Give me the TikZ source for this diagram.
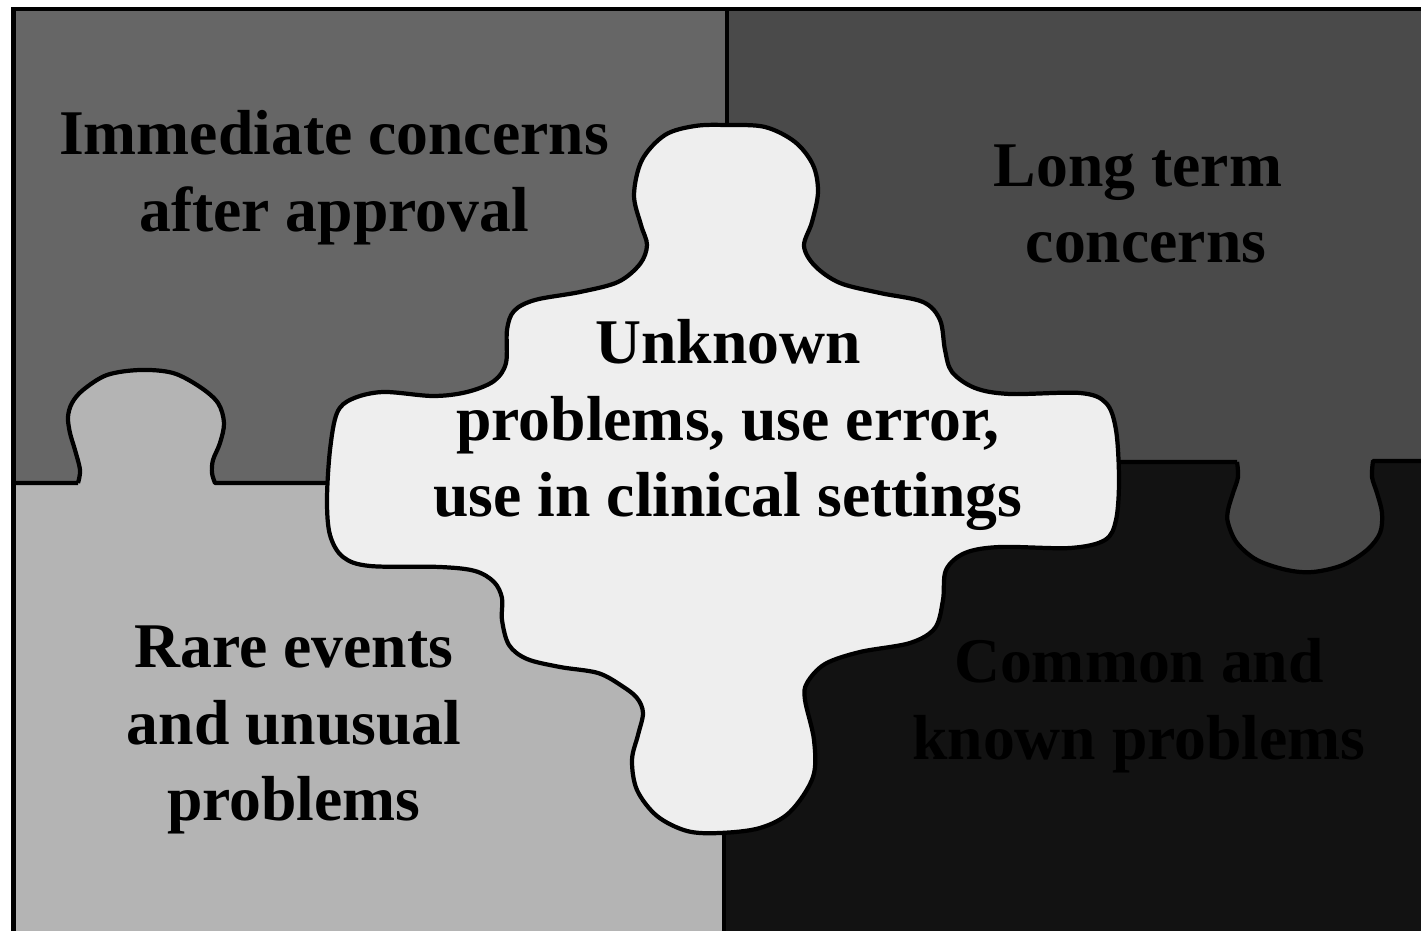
\documentclass[tikz,border=0pt]{standalone}
\usepackage{fontspec}
\setmainfont{Liberation Serif}
\definecolor{cTL}{HTML}{666666}
\definecolor{cTR}{HTML}{4A4A4A}
\definecolor{cBL}{HTML}{B4B4B4}
\definecolor{cBR}{HTML}{121212}
\definecolor{cMid}{HTML}{EEEEEE}
\tikzset{
  outline/.style={draw=black, line width=1.2pt, line join=round},
  label/.style={font=\fontsize{18.1}{21.8}\selectfont\bfseries, align=center, text=black, inner sep=0pt},
}
\begin{document}
\begin{tikzpicture}[x=0.01cm, y=-0.01cm]
\useasboundingbox (0,0) rectangle (1421,931);
\clip (0,0) rectangle (1421,931);
% quadrant fills
\fill[cTL] (13,9) rectangle (727,483);
\fill[cTR] (727,9) rectangle (1440,461);
\fill[cBL] (13,483) rectangle (724,950);
\fill[cBR] (724,461) rectangle (1440,950);
% left tab (bottom-left piece into top-left)
\fill[cBL] plot[smooth, tension=0.55] coordinates {(78,484) (80,470) (75,450) (70,433) (68,417) (72,403) (83,390) (107,375) (140,370) (173,373) (200,387) (218,403) (224,423) (220,443) (213,460) (212,473) (215,484)} -- cycle;
% right knob (top-right piece into bottom-right)
\fill[cTR] plot[smooth, tension=0.55] coordinates {(1237,460) (1238,477) (1233,493) (1228,510) (1228,523) (1237,543) (1257,560) (1287,570) (1313,572) (1343,565) (1367,550) (1380,533) (1382,513) (1377,493) (1372,477) (1373,460)} -- cycle;
% dividers
\draw[outline] (13,483) -- (78,483) plot[smooth, tension=0.55] coordinates {(78,483) (80,470) (75,450) (70,433) (68,417) (72,403) (83,390) (107,375) (140,370) (173,373) (200,387) (218,403) (224,423) (220,443) (213,460) (212,473) (215,483)} -- (340,483);
\draw[outline] (1110,462) -- (1237,462) plot[smooth, tension=0.55] coordinates {(1237,462) (1238,477) (1233,493) (1228,510) (1228,523) (1237,543) (1257,560) (1287,570) (1313,572) (1343,565) (1367,550) (1380,533) (1382,513) (1377,493) (1372,477) (1373,461)} -- (1440,461);
\draw[outline] (727,9) -- (727,135);
\draw[outline] (724,820) -- (724,950);
% central piece
\draw[outline, fill=cMid] plot[smooth cycle, tension=0.55] coordinates {
(727,125) (765,127) (795,142) (813,165) (818,192) (812,222) (804,246) (815,266) (840,283) (880,293) (923,302) (940,320) (945,350) (952,372) (975,388) (1010,394) (1080,393) (1106,403) (1116,430) (1119,480) (1116,520) (1105,540) (1070,548) (1000,547) (965,553) (946,570) (943,600) (935,628) (910,643) (860,652) (825,664) (807,683) (805,700) (814,740) (813,777) (790,812) (760,828) (720,833) (687,831) (657,816) (637,790) (632,760) (638,735) (643,713) (637,698) (622,686) (598,673) (560,667) (527,659) (509,645) (502,620) (502,598) (494,582) (475,571) (440,567) (370,566) (343,557) (330,535) (327,500) (330,450) (337,413) (352,399) (383,392) (433,396) (467,392) (494,381) (506,363) (507,330) (514,311) (535,300) (580,292) (618,282) (640,264) (647,245) (641,225) (634,195) (642,160) (665,135) (695,126)};
% frame
\draw[black, line width=1.4pt] (13.5,9) rectangle (1440,950);
% labels
\node[label] (immediate) at (334,178) {Immediate concerns\\after approval};
\node[label] (longterm) at (1146,204) {Long term\hspace*{0.16cm}\\concerns};
\node[label] (unknown) at (728,425) {Unknown\\problems, use error,\\use in clinical settings};
\node[label] (rare) at (294,730) {Rare events\\and unusual\\problems};
\node[label] (common) at (1139,706) {Common and\\known problems};
\end{tikzpicture}
\end{document}
